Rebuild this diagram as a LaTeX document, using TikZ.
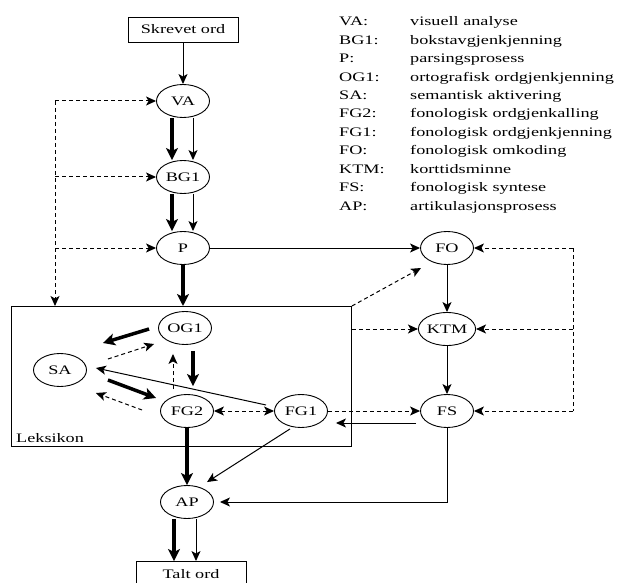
\documentclass[tikz,border=0pt]{standalone}
\usepackage{fontspec}
\setmainfont[FakeStretch=1.4]{Liberation Serif}
\usetikzlibrary{shapes.geometric,arrows.meta}

\tikzset{
  proc/.style={draw, ellipse, line width=0.9pt, minimum width=53pt, minimum height=33pt,
    inner sep=0pt, font=\fontsize{13}{15}\selectfont},
  wordbox/.style={draw, rectangle, line width=0.9pt, minimum width=110pt, minimum height=25pt,
    inner sep=0pt, font=\fontsize{13}{15}\selectfont},
  legend/.style={anchor=base west, inner sep=0pt, font=\fontsize{13}{15}\selectfont},
  thinarrow/.style={-{Stealth[length=10pt,width=9pt,inset=2.5pt]}, line width=1pt},
  fatarrow/.style={-{Stealth[length=12pt,width=12pt,inset=3pt]}, line width=3.5pt},
  dashline/.style={line width=1pt, dash pattern=on 4pt off 3pt},
  dasharrow/.style={thinarrow, dashline},
  dashboth/.style={{Stealth[length=10pt,width=9pt,inset=2.5pt]}-{Stealth[length=10pt,width=9pt,inset=2.5pt]}, dashline},
}

\begin{document}
\begin{tikzpicture}[x=1pt,y=-1pt]
\useasboundingbox (0,0) rectangle (624,583);

\node[wordbox] (skrevet) at (183,29.5) {Skrevet ord};
\node[proc] (va) at (183,101) {VA};
\node[proc] (bg) at (183,177) {BG1};
\node[proc] (p) at (183,248) {P};

\node[draw, line width=0.9pt, anchor=north west, minimum width=340pt, minimum height=140pt,
  inner sep=0pt] (lex) at (11,306) {};
\node[legend] (lexlabel) at (16,442) {Leksikon};

\node[proc] (og1) at (185,328) {OG1};
\node[proc] (sa) at (60,370) {SA};
\node[proc] (fg2) at (187,411) {FG2};
\node[proc] (fg1) at (301,411) {FG1};
\node[proc] (ap) at (187,502) {AP};
\node[wordbox] (talt) at (191,574) {Talt ord};

\node[proc] (fo) at (447,248) {FO};
\node[proc] (ktm) at (447,329) {KTM};
\node[proc] (fs) at (447,411) {FS};

\foreach \ab/\txt [count=\i] in {VA:/visuell analyse, BG1:/bokstavgjenkjenning,
    P:/parsingsprosess, OG1:/ortografisk ordgjenkjenning, SA:/semantisk aktivering,
    FG2:/fonologisk ordgjenkalling, FG1:/fonologisk ordgjenkjenning,
    FO:/fonologisk omkoding, KTM:/korttidsminne, FS:/fonologisk syntese,
    AP:/artikulasjonsprosess}
{
  \node[legend] (ab\i) at (339,{26+18.4*(\i-1)}) {\ab};
  \node[legend] (txt\i) at (410,{26+18.4*(\i-1)}) {\txt};
}

% vertical chain
\draw[thinarrow] (skrevet) -- (va);
\draw[fatarrow] ([shift={(-11,0)}]va.south) -- ([shift={(-11,0)}]bg.north);
\draw[thinarrow] ([shift={(10,0)}]va.south) -- ([shift={(10,0)}]bg.north);
\draw[fatarrow] ([shift={(-11,0)}]bg.south) -- ([shift={(-11,0)}]p.north);
\draw[thinarrow] ([shift={(10,0)}]bg.south) -- ([shift={(10,0)}]p.north);
\draw[fatarrow] (p.south) -- (p.south |- lex.north);
\draw[thinarrow] (p) -- (fo);

% left feedback
\coordinate (lt) at (55,101);
\draw[dasharrow] (lt) -- (lt |- lex.north);
\draw[dasharrow] (lt) -- (va);
\draw[dasharrow] (lt |- bg) -- (bg);
\draw[dasharrow] (lt |- p) -- (p);

% lexicon
\draw[fatarrow] ([shift={(-9,1)}]og1.west) -- ([shift={(16,-27)}]sa.east);
\draw[dasharrow] ([shift={(21,-11)}]sa.east) -- ([shift={(-4,16)}]og1.west);
\draw[fatarrow] ([shift={(21,10)}]sa.east) -- ([shift={(-4,-13)}]fg2.west);
\draw[dasharrow] ([shift={(-18,-1)}]fg2.west) -- ([shift={(9,23)}]sa.east);
\draw[thinarrow] ([shift={(-8,-6)}]fg1.west) -- ([shift={(9,-2)}]sa.east);
\draw[fatarrow] ([shift={(8,6)}]og1.south) -- ([shift={(6,-8)}]fg2.north);
\draw[dasharrow] ([shift={(-14,-5)}]fg2.north) -- ([shift={(-12,9)}]og1.south);
\draw[dashboth] (fg2) -- (fg1);

% output
\draw[fatarrow] (fg2) -- (ap);
\draw[thinarrow] ([shift={(-11,1)}]fg1.south) -- ([shift={(20,-3)}]ap.north);
\draw[fatarrow] ([shift={(-13,0)}]ap.south) -- ([shift={(-17,0)}]talt.north);
\draw[thinarrow] ([shift={(9,0)}]ap.south) -- ([shift={(5,0)}]talt.north);

% phonological route
\draw[thinarrow] (fo) -- (ktm);
\draw[thinarrow] (ktm) -- (fs);
\draw[dasharrow] (lex.east |- ktm) -- (ktm);
\draw[dasharrow] (lex.north east) -- ([shift={(-26,20)}]fo.center);
\draw[dasharrow] (fg1) -- (fs);
\draw[thinarrow] ([shift={(-4,12)}]fs.west) -- ([shift={(8,12)}]fg1.east);
\draw[thinarrow, shorten >=6pt] (fs.south) |- (ap.east);

% right feedback
\coordinate (rt) at (573,248);
\draw[dashline] (rt) -- (rt |- fs);
\draw[dasharrow] (rt) -- (fo);
\draw[dasharrow] (rt |- ktm) -- (ktm);
\draw[dasharrow] (rt |- fs) -- (fs);

\end{tikzpicture}
\end{document}
